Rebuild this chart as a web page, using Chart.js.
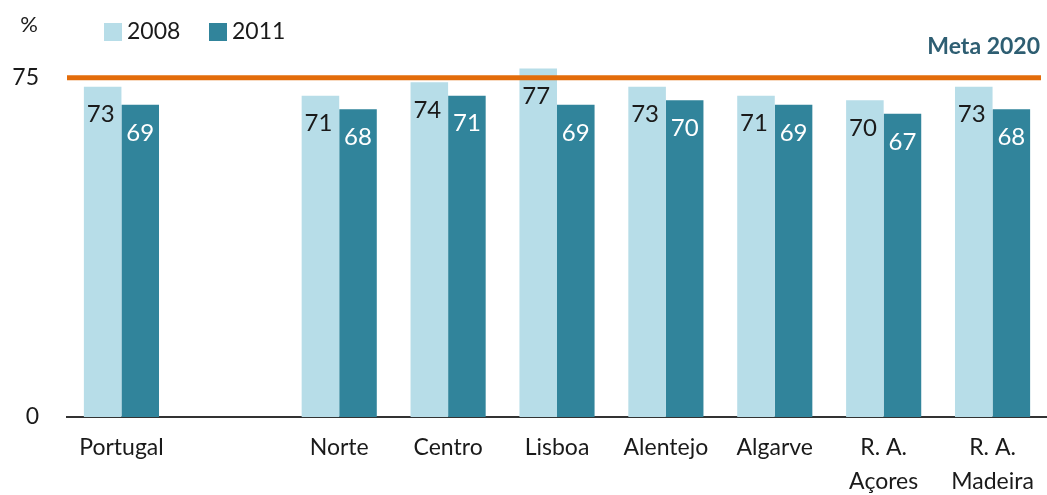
<!DOCTYPE html>
<html><head><meta charset="utf-8">
<script src="https://cdn.jsdelivr.net/npm/chart.js@4"></script>
<style>html,body{margin:0;padding:0;background:#fff}#w{width:1047px;height:495px}</style>
</head><body><div id="w"><canvas id="c"></canvas></div>
<script>
const categories = ['Portugal', '', 'Norte', 'Centro', 'Lisboa', 'Alentejo', 'Algarve', ['R. A.', 'Açores'], ['R. A.', 'Madeira']];
const series2008 = [73, null, 71, 74, 77, 73, 71, 70, 73];
const series2011 = [69, null, 68, 71, 69, 70, 69, 67, 68];
const yTicks = [0, 75];
const targetValue = 75;
const targetLabel = 'Meta 2020';
const seriesNames = ['2008', '2011'];

const FONT = 'Lato, "Open Sans", sans-serif';
const C08 = '#B7DDE8', C11 = '#31849B';

const overlay = {
  id: 'overlay',
  afterDatasetsDraw(chart) {
    const ctx = chart.ctx, ca = chart.chartArea, y = chart.scales.y;
    ctx.save();
    const ty = y.getPixelForValue(targetValue);
    ctx.strokeStyle = '#E36C0A'; ctx.lineWidth = 5;
    ctx.beginPath(); ctx.moveTo(ca.left, ty); ctx.lineTo(ca.right - 6, ty); ctx.stroke();
    ctx.fillStyle = '#2E5E72'; ctx.font = 'bold 23px ' + FONT;
    ctx.textAlign = 'right'; ctx.textBaseline = 'middle';
    ctx.fillText(targetLabel, 1040, 47);
    ctx.font = '24px ' + FONT; ctx.textAlign = 'center';
    chart.data.datasets.forEach((ds, di) => {
      const meta = chart.getDatasetMeta(di);
      ctx.fillStyle = di === 0 ? '#1a1a1a' : '#ffffff';
      meta.data.forEach((el, i) => {
        const v = ds.data[i];
        if (v == null) return;
        ctx.fillText(String(v), el.x - (di === 0 ? 2 : 0), el.y + 28);
      });
    });
    ctx.fillStyle = '#1a1a1a'; ctx.font = '22px ' + FONT; ctx.textAlign = 'center';
    ctx.fillText('%', 29, 25);
    const lx = [104, 209];
    chart.data.datasets.forEach((ds, di) => {
      ctx.fillStyle = ds.backgroundColor;
      ctx.fillRect(lx[di], 23, 18, 18);
      ctx.fillStyle = '#1a1a1a'; ctx.textAlign = 'left'; ctx.font = '23px ' + FONT;
      ctx.fillText(ds.label, lx[di] + 23, 32);
    });
    ctx.restore();
  }
};

new Chart(document.getElementById('c'), {
  type: 'bar',
  data: {
    labels: categories,
    datasets: [
      { label: seriesNames[0], data: series2008, backgroundColor: C08 },
      { label: seriesNames[1], data: series2011, backgroundColor: C11 }
    ]
  },
  options: {
    responsive: true, maintainAspectRatio: false, animation: false,
    layout: { padding: { top: 55, right: 0, left: 0, bottom: 0 } },
    datasets: { bar: { categoryPercentage: 0.69, barPercentage: 1.0 } },
    plugins: { legend: { display: false }, tooltip: { enabled: false } },
    scales: {
      x: {
        grid: { display: false, drawTicks: false },
        border: { display: true, color: '#333', width: 2 },
        ticks: { color: '#1a1a1a', font: { family: FONT, size: 23, lineHeight: 1.5 }, padding: 13, maxRotation: 0, autoSkip: false },
        afterFit(s) { s.height = 78; }
      },
      y: {
        min: 0, max: 80,
        grid: { display: false, drawTicks: false },
        border: { display: false },
        afterBuildTicks(s) { s.ticks = yTicks.map(v => ({ value: v })); },
        ticks: { color: '#1a1a1a', font: { family: FONT, size: 23 }, padding: 28 },
        afterFit(s) { s.width = 67; }
      }
    }
  },
  plugins: [overlay]
});
</script></body></html>
